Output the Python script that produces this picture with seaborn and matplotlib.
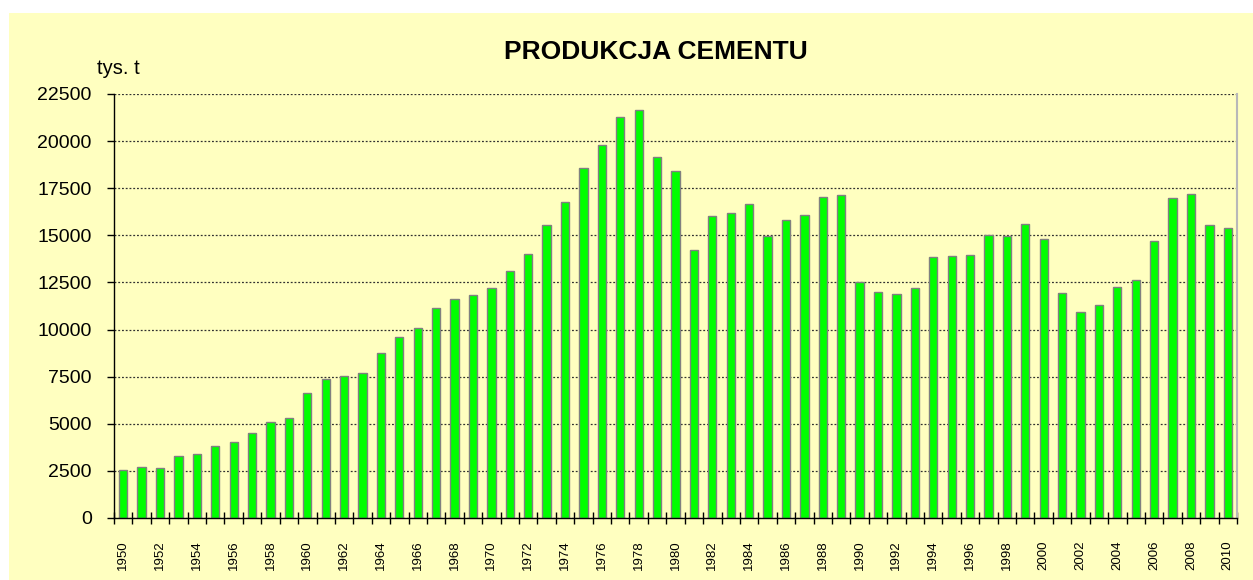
import numpy as np
import pandas as pd
import matplotlib
matplotlib.use("Agg")
import matplotlib.pyplot as plt
import seaborn as sns
from matplotlib.patches import Rectangle

# =========================
# Dane
# =========================
lata = list(range(1950, 2011))
produkcja = [
    2530, 2690, 2650, 3310, 3415, 3820, 4050, 4510, 5080, 5330,
    6620, 7380, 7520, 7680, 8780, 9590, 10070, 11130, 11610, 11820,
    12190, 13090, 14000, 15550, 16770, 18560, 19800, 21300, 21670, 19180,
    18430, 14230, 16050, 16170, 16650, 14990, 15840, 16100, 17020, 17120,
    12520, 11990, 11900, 12190, 13830, 13920, 13970, 15000, 14960, 15580,
    14820, 11920, 10950, 11320, 12260, 12630, 14680, 16960, 17210, 15550,
    15400,
]
y_ticks = list(range(0, 22501, 2500))
tytul = "PRODUKCJA CEMENTU"
jednostka = "tys. t"

df = pd.DataFrame({"rok": lata, "wartosc": produkcja})

# =========================
# Wykres
# =========================
sns.set_theme(style="white")
plt.rcParams['font.family'] = ['Liberation Sans', 'DejaVu Sans']
plt.rcParams['text.color'] = 'black'
plt.rcParams['xtick.color'] = 'black'
plt.rcParams['ytick.color'] = 'black'

TLO = "#FFFFC0"
fig = plt.figure(figsize=(12.53, 5.80), dpi=100, facecolor="white")
# żółte tło wykresu (mały biały margines u góry i z lewej)
tlo = Rectangle((9 / 1253, 0), 1 - 9 / 1253, 1 - 13 / 580,
                transform=fig.transFigure, facecolor=TLO,
                edgecolor="none", zorder=-10)
fig.add_artist(tlo)

ax = fig.add_axes([114 / 1253, 1 - 518 / 580, 1123 / 1253, 424 / 580])
ax.set_facecolor(TLO)

sns.barplot(data=df, x="rok", y="wartosc", color="#00FF00",
            edgecolor="#808080", linewidth=1.0, width=0.45,
            saturation=1, ax=ax, zorder=3)

ax.set_xlim(-0.5, len(lata) - 0.5)
ax.set_ylim(0, 22500)
ax.set_yticks(y_ticks)
ax.set_yticklabels([str(v) for v in y_ticks], fontsize=14)

# etykiety co drugi rok, kreski na granicach kategorii
pos = np.arange(len(lata))
ax.set_xticks(pos[::2])
ax.set_xticklabels([str(r) for r in lata[::2]], rotation=90, fontsize=9.5)
ax.set_xticks(np.arange(-0.5, len(lata), 1), minor=True)
ax.tick_params(axis="x", which="major", length=0, pad=16)
ax.tick_params(axis="x", which="minor", length=8, direction="inout",
               width=1, color="black", bottom=True)
ax.tick_params(axis="y", which="major", length=5, direction="out",
               width=1, color="black", left=True, pad=11)

ax.set_xlabel("")
ax.set_ylabel("")

# linie siatki
ax.yaxis.grid(True, linestyle=(0, (1.5, 1.5)), color="#303030",
              linewidth=0.9, zorder=1)
ax.xaxis.grid(False)
ax.set_axisbelow(True)

ax.spines["top"].set_visible(False)
ax.spines["left"].set_color("black")
ax.spines["bottom"].set_color("black")
ax.spines["left"].set_linewidth(1.0)
ax.spines["bottom"].set_linewidth(1.0)
ax.spines["right"].set_color("#B8B8B8")
ax.spines["right"].set_linewidth(1.5)
ax.spines["left"].set_zorder(4)
ax.spines["bottom"].set_zorder(4)

fig.text(656 / 1253, 1 - 52 / 580, tytul, ha="center", va="center",
         fontsize=19, fontweight="bold", color="black")
fig.text(97 / 1253, 1 - 68 / 580, jednostka, ha="left", va="center",
         fontsize=14.5, color="black")

fig.savefig("out.png", dpi=100, facecolor="white")
